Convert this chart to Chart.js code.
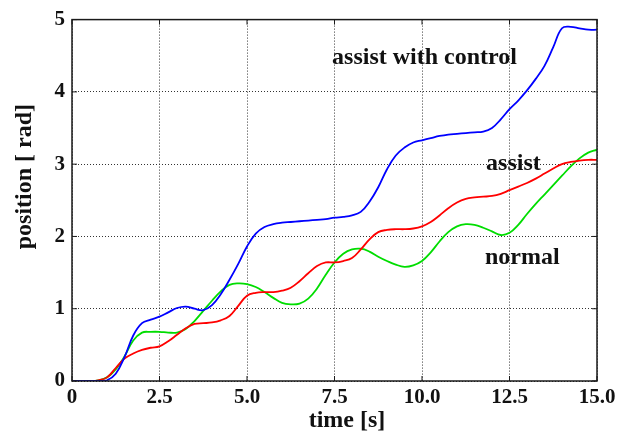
<!DOCTYPE html>
<html>
<head>
<meta charset="utf-8">
<script src="https://cdn.jsdelivr.net/npm/chart.js@4/dist/chart.umd.min.js"></script>
<style>
  html, body { margin: 0; padding: 0; background: #fff; }
  #wrap { width: 630px; height: 438px; }
</style>
</head>
<body>
<div id="wrap"><canvas id="chart" width="630" height="438"></canvas></div>
<script>
// time samples (s), every 0.25 s
const times = [];
for (let i = 0; i <= 60; i++) times.push(i * 0.25);

// position [rad]
const assistControl = [0, 0, 0, 0, 0.01, 0.10, 0.33, 0.63, 0.80, 0.85, 0.89, 0.95, 1.01, 1.03, 1.00, 0.98,
  1.05, 1.20, 1.40, 1.62, 1.86, 2.04, 2.13, 2.17, 2.19, 2.20, 2.21, 2.22, 2.23, 2.24, 2.26, 2.27,
  2.29, 2.34, 2.48, 2.68, 2.93, 3.12, 3.23, 3.30, 3.33, 3.36, 3.39, 3.41, 3.42, 3.43, 3.44, 3.45,
  3.50, 3.62, 3.76, 3.88, 4.02, 4.18, 4.36, 4.62, 4.88, 4.90, 4.88, 4.86, 4.86];
const assist = [0, 0, 0, 0.01, 0.05, 0.18, 0.31, 0.38, 0.43, 0.46, 0.48, 0.55, 0.64, 0.73, 0.79, 0.80,
  0.81, 0.84, 0.90, 1.04, 1.18, 1.22, 1.23, 1.23, 1.25, 1.29, 1.38, 1.49, 1.59, 1.64, 1.64, 1.66,
  1.70, 1.82, 1.96, 2.06, 2.09, 2.10, 2.10, 2.11, 2.14, 2.20, 2.29, 2.39, 2.47, 2.52, 2.54, 2.55,
  2.56, 2.59, 2.64, 2.69, 2.74, 2.80, 2.87, 2.94, 3.00, 3.03, 3.05, 3.06, 3.06];
const normal = [0, 0, 0, 0.01, 0.05, 0.16, 0.34, 0.56, 0.67, 0.68, 0.68, 0.67, 0.67, 0.72, 0.83, 0.97,
  1.11, 1.24, 1.33, 1.35, 1.34, 1.30, 1.23, 1.15, 1.08, 1.06, 1.07, 1.14, 1.28, 1.47, 1.64, 1.76,
  1.82, 1.83, 1.79, 1.72, 1.66, 1.61, 1.58, 1.60, 1.66, 1.78, 1.93, 2.06, 2.14, 2.17, 2.16, 2.12,
  2.07, 2.02, 2.05, 2.16, 2.31, 2.45, 2.58, 2.71, 2.84, 2.97, 3.08, 3.16, 3.20];

const xTicks = [0, 2.5, 5, 7.5, 10, 12.5, 15];
const yTicks = [0, 1, 2, 3, 4, 5];

// text labels next to the curves: [text, t, position]
const notes = [
  ['assist with control', 7.43, 4.39],
  ['assist', 11.83, 2.92],
  ['normal', 11.8, 1.62]
];

const FONT = '"Liberation Serif", "Times New Roman", serif';

function pts(vals) {
  return times.map((t, i) => ({ x: t, y: vals[i] }));
}

// frame, inward ticks, axis titles and the curve labels
const framePlugin = {
  id: 'frame',
  afterDraw(chart) {
    const { ctx, chartArea: a, scales: { x, y } } = chart;
    ctx.save();
    ctx.strokeStyle = '#1a1a1a';
    ctx.lineWidth = 1;
    ctx.beginPath();
    xTicks.forEach(v => {
      const px = x.getPixelForValue(v);
      ctx.moveTo(px, a.bottom); ctx.lineTo(px, a.bottom - 5);
      ctx.moveTo(px, a.top); ctx.lineTo(px, a.top + 5);
    });
    yTicks.forEach(v => {
      const py = y.getPixelForValue(v);
      ctx.moveTo(a.left, py); ctx.lineTo(a.left + 5, py);
      ctx.moveTo(a.right, py); ctx.lineTo(a.right - 5, py);
    });
    ctx.stroke();
    ctx.lineWidth = 1.5;
    ctx.strokeRect(a.left, a.top, a.right - a.left, a.bottom - a.top);

    ctx.fillStyle = '#111';
    ctx.font = 'bold 24px ' + FONT;
    ctx.textBaseline = 'alphabetic';
    notes.forEach(n => {
      ctx.fillText(n[0], x.getPixelForValue(n[1]), y.getPixelForValue(n[2]));
    });

    // axis titles (sit a little off the axis centre in the original)
    ctx.textAlign = 'center';
    ctx.textBaseline = 'middle';
    ctx.fillText('time [s]', a.left + 275, a.bottom + 40);
    ctx.translate(25, a.top + 157);
    ctx.rotate(-Math.PI / 2);
    ctx.fillText('position [ rad]', 0, 0);
    ctx.restore();
  }
};

const gridOpts = { color: '#333', lineWidth: 1, drawTicks: false };

new Chart(document.getElementById('chart'), {
  type: 'line',
  data: {
    datasets: [
      { label: 'assist with control', data: pts(assistControl), borderColor: '#0000ff' },
      { label: 'assist', data: pts(assist), borderColor: '#ff0000' },
      { label: 'normal', data: pts(normal), borderColor: '#00dd00' }
    ]
  },
  options: {
    responsive: false,
    animation: false,
    layout: { padding: { top: 18, right: 33, left: 0, bottom: 0 } },
    elements: {
      point: { radius: 0 },
      line: { borderWidth: 1.8, tension: 0.4, fill: false }
    },
    plugins: { legend: { display: false }, tooltip: { enabled: false } },
    scales: {
      x: {
        type: 'linear', min: 0, max: 15,
        afterBuildTicks: s => { s.ticks = xTicks.map(v => ({ value: v })); },
        afterFit: s => { s.height = 57; },
        grid: gridOpts,
        border: { display: false, dash: [1, 2] },
        ticks: {
          padding: 4, color: '#111',
          font: { family: FONT, size: 21, weight: 'bold' },
          callback: v => v === 0 ? '0' : v.toFixed(1)
        }
      },
      y: {
        min: 0, max: 5,
        afterBuildTicks: s => { s.ticks = yTicks.map(v => ({ value: v })); },
        afterFit: s => { s.width = 72; },
        grid: gridOpts,
        border: { display: false, dash: [1, 2] },
        ticks: {
          padding: 7, color: '#111',
          font: { family: FONT, size: 21, weight: 'bold' }
        }
      }
    }
  },
  plugins: [framePlugin]
});
</script>
</body>
</html>
